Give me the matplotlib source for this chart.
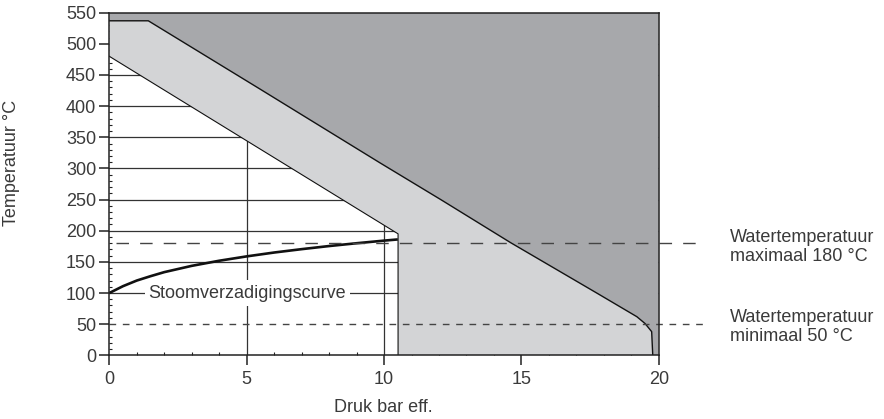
import matplotlib
matplotlib.use("Agg")
import matplotlib.pyplot as plt
from matplotlib.ticker import MultipleLocator

plt.rcParams['font.family'] = ['Liberation Sans', 'DejaVu Sans']

# --- data ---
# upper boundary (dark grey / light grey border), pressure (bar) vs temperature (°C)
upper_p = [0.0, 1.42, 5.5, 9.85, 12.1, 14.6, 17.74, 19.2, 19.5, 19.74, 19.78]
upper_t = [537, 537, 427, 309, 249, 181, 100, 62, 51, 38, 0]
# lower boundary (white / light grey border)
lower_p = [0.0, 10.51, 10.51]
lower_t = [480, 195, 0]
# steam saturation curve (gauge pressure)
sat_p = [0, 0.5, 1, 1.5, 2, 3, 4, 5, 6, 7, 8, 9, 10, 10.5]
sat_t = [100, 111, 120, 127, 133.5, 143.6, 151.8, 158.8, 165, 170.4, 175.4, 179.9, 184.1, 186]
# grid lines
hgrid = [100, 150, 200, 250, 300, 350, 400, 450, 500]
vgrid = [5, 10, 15]
# water temperature limits
t_max = 180
t_min = 50

x_max, y_max = 20, 550
dark = '#a7a8ab'
light = '#d3d4d6'
ink = '#222222'
txt = '#3a3a3a'

fig = plt.figure(figsize=(8.84, 4.19), dpi=100)
ax = fig.add_axes([109.3/884, 63.7/419, 549.5/884, 342.6/419])
ax.set_xlim(0, x_max)
ax.set_ylim(0, y_max)

# grid
for y in hgrid:
    ax.plot([0, x_max], [y, y], color='#333333', lw=0.9, zorder=1)
for x in vgrid:
    ax.plot([x, x], [0, y_max], color='#333333', lw=0.9, zorder=1)

# dark region
dark_x = upper_p + [x_max, x_max, 0]
dark_y = upper_t + [0, y_max, y_max]
ax.fill(dark_x, dark_y, color=dark, lw=0, zorder=2)
# light region
light_x = lower_p + upper_p[::-1]
light_y = lower_t + upper_t[::-1]
ax.fill(light_x, light_y, color=light, lw=0, zorder=2)

ax.plot(upper_p, upper_t, color='#111111', lw=1.0, zorder=3)
ax.plot(lower_p, lower_t, color='#111111', lw=0.8, zorder=3)

# saturation curve
ax.plot(sat_p, sat_t, color='#111111', lw=1.9, zorder=4, solid_capstyle='butt')
ax.text(5.03, 100, 'Stoomverzadigingscurve', fontsize=13, color=txt,
        ha='center', va='center', zorder=6,
        bbox=dict(facecolor='white', edgecolor='none', pad=3))

# dashed limits
ax.plot([0.25, 21.7], [t_max, t_max], color='#444444', lw=1.0,
        dashes=(9, 8), clip_on=False, zorder=5)
ax.plot([0, 21.7], [t_min, t_min], color='#444444', lw=1.0,
        dashes=(4.8, 4.8), clip_on=False, zorder=5)

ax.text(22.6, 174.5, 'Watertemperatuur\nmaximaal 180 °C', fontsize=13, color=txt,
        ha='left', va='center', linespacing=1.15, clip_on=False)
ax.text(22.6, 46, 'Watertemperatuur\nminimaal 50 °C', fontsize=13, color=txt,
        ha='left', va='center', linespacing=1.15, clip_on=False)

# ticks
ax.xaxis.set_major_locator(MultipleLocator(5))
ax.xaxis.set_minor_locator(MultipleLocator(1))
ax.yaxis.set_major_locator(MultipleLocator(50))
ax.yaxis.set_minor_locator(MultipleLocator(10))
ax.tick_params(which='major', direction='out', length=7.5, width=1.1,
               color=ink, labelsize=13, labelcolor=txt)
ax.tick_params(axis='x', which='major', pad=4)
ax.tick_params(axis='y', which='major', pad=2)
ax.tick_params(which='minor', direction='in', length=2, width=0.8, color=ink)

for s in ax.spines.values():
    s.set_color(ink)
    s.set_linewidth(1.1)
    s.set_zorder(7)

fig.text(12/884, 1 - 163/419, 'Temperatuur °C', rotation=90, fontsize=13,
         color=txt, ha='center', va='center')
fig.text(383/884, 1 - 407/419, 'Druk bar eff.', fontsize=13, color=txt,
         ha='center', va='center')

fig.savefig('out.png', dpi=100)
